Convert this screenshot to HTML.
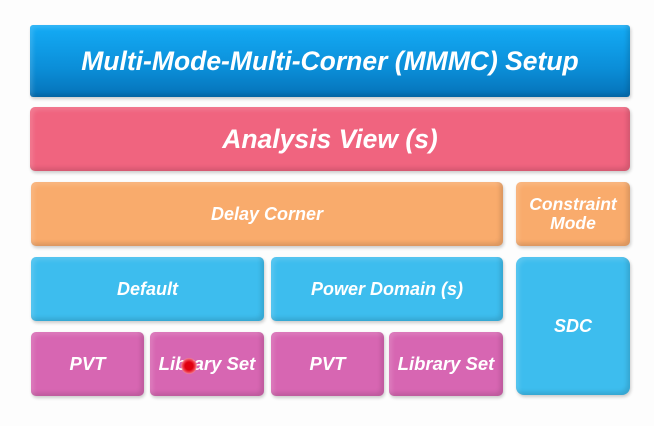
<html><head><style>
body{margin:0;width:654px;height:426px;background:#fdfdfd;position:relative;overflow:hidden;font-family:"Liberation Sans",sans-serif;}
.b{position:absolute;box-sizing:border-box;display:flex;align-items:center;justify-content:center;text-align:center;color:#fff;font-weight:bold;font-style:italic;border-radius:5px;box-shadow:1px 2px 3px rgba(0,0,0,.2), inset -3px -3px 4px rgba(0,0,0,.12), inset 3px 3px 4px rgba(255,255,255,.15);}
.o{background:#f9ab6c;font-size:18px}
.c{background:#3dbdee;font-size:18px}
.m{background:#d766b2;font-size:18.5px}
</style></head><body>
<div class="b" style="left:30px;top:25px;width:600px;height:72px;background:linear-gradient(#14acf6,#0b8ed8 60%,#0572b8);font-size:26.5px;border-radius:3px">Multi-Mode-Multi-Corner (MMMC) Setup</div>
<div class="b" style="left:30px;top:107px;width:600px;height:64px;background:#f0647f;font-size:26.5px">Analysis View (s)</div>
<div class="b o" style="left:31px;top:182px;width:472px;height:64px">Delay Corner</div>
<div class="b o" style="left:516px;top:182px;width:114px;height:64px;line-height:19px;font-size:17.5px">Constraint<br>Mode</div>
<div class="b c" style="left:31px;top:257px;width:233px;height:64px">Default</div>
<div class="b c" style="left:271px;top:257px;width:232px;height:64px">Power Domain (s)</div>
<div class="b c" style="left:516px;top:257px;width:114px;height:138px;border-radius:8px">SDC</div>
<div class="b m" style="left:31px;top:332px;width:113px;height:64px">PVT</div>
<div class="b m" style="left:150px;top:332px;width:114px;height:64px">Library Set</div>
<div class="b m" style="left:271px;top:332px;width:113px;height:64px">PVT</div>
<div class="b m" style="left:389px;top:332px;width:114px;height:64px">Library Set</div>
<div style="position:absolute;left:181px;top:358px;width:16px;height:16px;border-radius:50%;background:radial-gradient(#e00010 35%,#f04050 55%,rgba(255,180,180,.6) 75%)"></div>
</body></html>
